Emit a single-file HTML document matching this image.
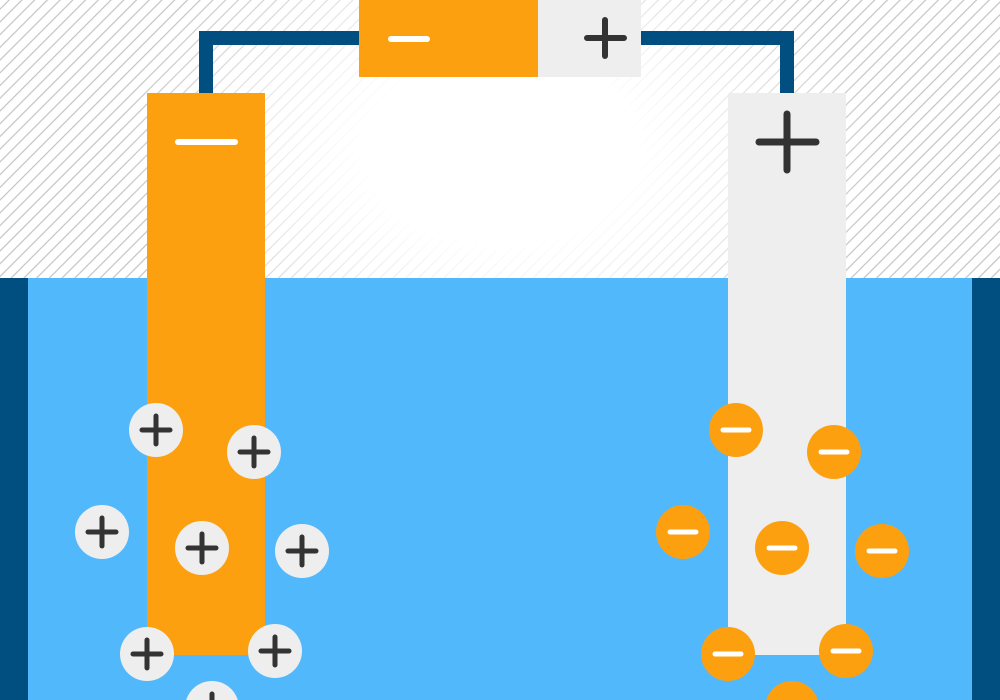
<!DOCTYPE html>
<html><head><style>
html,body{margin:0;padding:0;width:1000px;height:700px;overflow:hidden;background:#fff}
.hatch{position:absolute;left:0;top:0;width:1000px;height:280px;
background:repeating-linear-gradient(135deg,#fff 0px,#fff 5.5px,#b8b8b8 6.5px,#fff 7.5px,#fff 9px)}
.fade{position:absolute;left:0;top:0;width:1000px;height:280px;
background:radial-gradient(ellipse 380px 260px at 500px 150px,#fff 0%,#fff 35%,rgba(255,255,255,0.6) 65%,rgba(255,255,255,0) 100%)}
</style></head><body>
<div class="hatch"></div><div class="fade"></div>
<svg width="1000" height="700" style="position:absolute;left:0;top:0">
<rect x="0" y="278" width="1000" height="422" fill="#004f80"/>
<rect x="28" y="278" width="944" height="422" fill="#52b8fc"/>
<path d="M206 93 V38 H360 M640 38 H787 V93" fill="none" stroke="#004f80" stroke-width="14"/>
<rect x="359" y="0" width="180" height="77" fill="#fca010"/>
<rect x="538" y="0" width="103" height="77" fill="#eeeeee"/>
<line x1="391" y1="39" x2="427" y2="39" stroke="#fff" stroke-width="6" stroke-linecap="round"/>
<path d="M587 38 H624 M605 20 V56" stroke="#333" stroke-width="6" stroke-linecap="round"/>
<rect x="147" y="93" width="118" height="562" fill="#fca010"/>
<rect x="728" y="93" width="118" height="562" fill="#eeeeee"/>
<line x1="178" y1="142" x2="235" y2="142" stroke="#fff" stroke-width="6" stroke-linecap="round"/>
<path d="M759 142 H816 M787 114 V170" stroke="#333" stroke-width="7" stroke-linecap="round"/>
<g>
<g transform="translate(156,430)"><circle r="27" fill="#eee"/><path d="M-14 0H14M0 -14V14" stroke="#333" stroke-width="5" stroke-linecap="round"/></g>
<g transform="translate(254,452)"><circle r="27" fill="#eee"/><path d="M-14 0H14M0 -14V14" stroke="#333" stroke-width="5" stroke-linecap="round"/></g>
<g transform="translate(102,532)"><circle r="27" fill="#eee"/><path d="M-14 0H14M0 -14V14" stroke="#333" stroke-width="5" stroke-linecap="round"/></g>
<g transform="translate(202,548)"><circle r="27" fill="#eee"/><path d="M-14 0H14M0 -14V14" stroke="#333" stroke-width="5" stroke-linecap="round"/></g>
<g transform="translate(302,551)"><circle r="27" fill="#eee"/><path d="M-14 0H14M0 -14V14" stroke="#333" stroke-width="5" stroke-linecap="round"/></g>
<g transform="translate(147,654)"><circle r="27" fill="#eee"/><path d="M-14 0H14M0 -14V14" stroke="#333" stroke-width="5" stroke-linecap="round"/></g>
<g transform="translate(275,651)"><circle r="27" fill="#eee"/><path d="M-14 0H14M0 -14V14" stroke="#333" stroke-width="5" stroke-linecap="round"/></g>
<g transform="translate(212,708)"><circle r="27" fill="#eee"/><path d="M-14 0H14M0 -14V14" stroke="#333" stroke-width="5" stroke-linecap="round"/></g>
</g>
<g>
<g transform="translate(736,430)"><circle r="27" fill="#fca010"/><path d="M-13 0H13" stroke="#fff" stroke-width="5" stroke-linecap="round"/></g>
<g transform="translate(834,452)"><circle r="27" fill="#fca010"/><path d="M-13 0H13" stroke="#fff" stroke-width="5" stroke-linecap="round"/></g>
<g transform="translate(683,532)"><circle r="27" fill="#fca010"/><path d="M-13 0H13" stroke="#fff" stroke-width="5" stroke-linecap="round"/></g>
<g transform="translate(782,548)"><circle r="27" fill="#fca010"/><path d="M-13 0H13" stroke="#fff" stroke-width="5" stroke-linecap="round"/></g>
<g transform="translate(882,551)"><circle r="27" fill="#fca010"/><path d="M-13 0H13" stroke="#fff" stroke-width="5" stroke-linecap="round"/></g>
<g transform="translate(728,654)"><circle r="27" fill="#fca010"/><path d="M-13 0H13" stroke="#fff" stroke-width="5" stroke-linecap="round"/></g>
<g transform="translate(846,651)"><circle r="27" fill="#fca010"/><path d="M-13 0H13" stroke="#fff" stroke-width="5" stroke-linecap="round"/></g>
<g transform="translate(792,708)"><circle r="27" fill="#fca010"/><path d="M-13 0H13" stroke="#fff" stroke-width="5" stroke-linecap="round"/></g>
</g>
</svg>
</body></html>
